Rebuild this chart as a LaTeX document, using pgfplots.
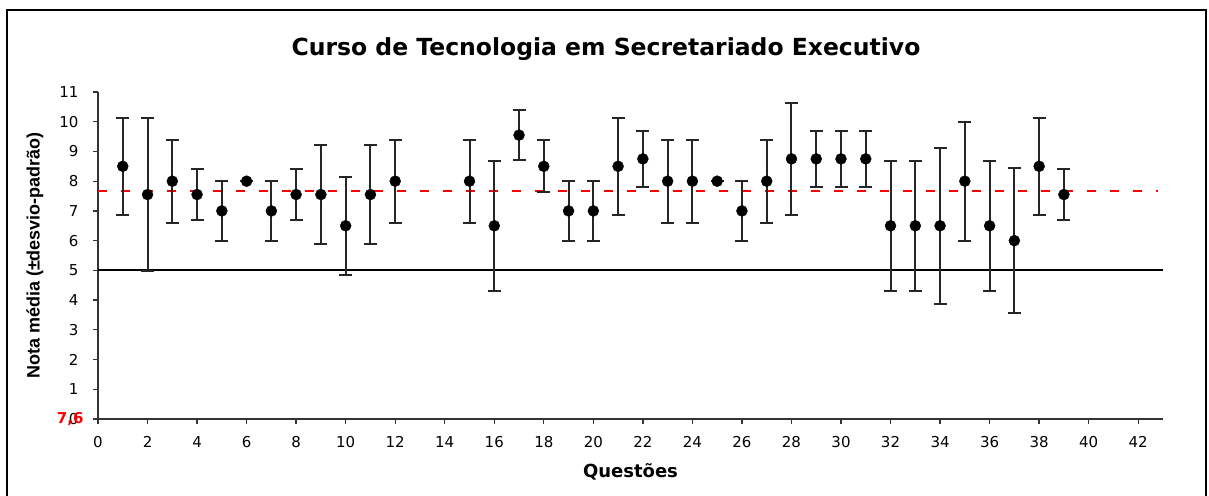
\documentclass[border=0pt]{standalone}
\usepackage{pgfplots}
\pgfplotsset{compat=1.18}
\usepackage{pgfplotstable}
\usepackage{fontspec}
\setmainfont{DejaVu Sans}
\newfontfamily\labfont{Liberation Sans}
\pgfplotstableread{
q m e
1 8.5 1.63
2 7.55 2.57
3 8.0 1.4
4 7.55 0.85
5 7.0 1.0
6 8.0 0
7 7.0 1.0
8 7.55 0.85
9 7.55 1.66
10 6.5 1.65
11 7.55 1.66
12 8.0 1.4
15 8.0 1.4
16 6.5 2.18
17 9.55 0.85
18 8.5 0.87
19 7.0 1.0
20 7.0 1.0
21 8.5 1.63
22 8.75 0.95
23 8.0 1.4
24 8.0 1.4
25 8.0 0
26 7.0 1.0
27 8.0 1.4
28 8.75 1.88
29 8.75 0.95
30 8.75 0.95
31 8.75 0.95
32 6.5 2.18
33 6.5 2.18
34 6.5 2.63
35 8.0 2.0
36 6.5 2.18
37 6.0 2.45
38 8.5 1.63
39 7.55 0.85
}\notas
\begin{document}
\begin{tikzpicture}
\useasboundingbox (-98pt,-76pt) rectangle (1111pt,419pt);
\draw[line width=1.5pt] (-91pt,-100pt) -- (-91pt,409pt) -- (1108pt,409pt) -- (1108pt,-100pt);
\begin{axis}[
  scale only axis, width=1065pt, height=327pt,
  xmin=0, xmax=43, ymin=0, ymax=11,
  xtick={0,2,...,42}, ytick={0,1,...,11},
  axis x line=bottom, axis y line=left,
  axis line style={-, line width=1.8pt, black!80},
  tick align=outside, major tick length=5pt,
  tick style={line width=1.3pt, black!80},
  /pgf/number format/assume math mode=true,
  ticklabel style={font=\fontsize{15}{15}\selectfont},
  xticklabel style={yshift=-9pt},
  yticklabel style={xshift=-11pt},
  title={Curso de Tecnologia em Secretariado Executivo},
  title style={at={(axis description cs:0.477,1.112)}, anchor=center, font=\fontsize{23.5}{24}\selectfont\bfseries},
  xlabel={Questões},
  every axis x label/.style={at={(axis description cs:0.5,0)}, anchor=center, yshift=-52.7pt, font=\fontsize{18}{19}\selectfont\bfseries},
  ylabel={Nota média (±desvio-padrão)},
  every axis y label/.style={at={(axis description cs:-0.0592,0.5)}, rotate=90, anchor=center, font=\labfont\fontsize{18}{19}\selectfont\bfseries},
  clip=false,
]
\addplot[black, line width=1.8pt] coordinates {(0,5) (43,5)};
\addplot[red, line width=2pt, dash pattern=on 9pt off 14pt] coordinates {(0,7.66) (42.8,7.66)};
\addplot[only marks, mark=*, mark size=5.5pt, black,
  error bars/.cd, y dir=both, y explicit,
  error bar style={line width=2pt, black!85},
  error mark options={rotate=90, mark size=6.5pt, line width=2pt, black!85}]
  table[x=q, y=m, y error=e] {\notas};
\node[red, anchor=east, font=\fontsize{15}{15}\selectfont\bfseries] at (axis cs:0,0) [xshift=-11pt] {7,6};
\end{axis}
\end{tikzpicture}
\end{document}
